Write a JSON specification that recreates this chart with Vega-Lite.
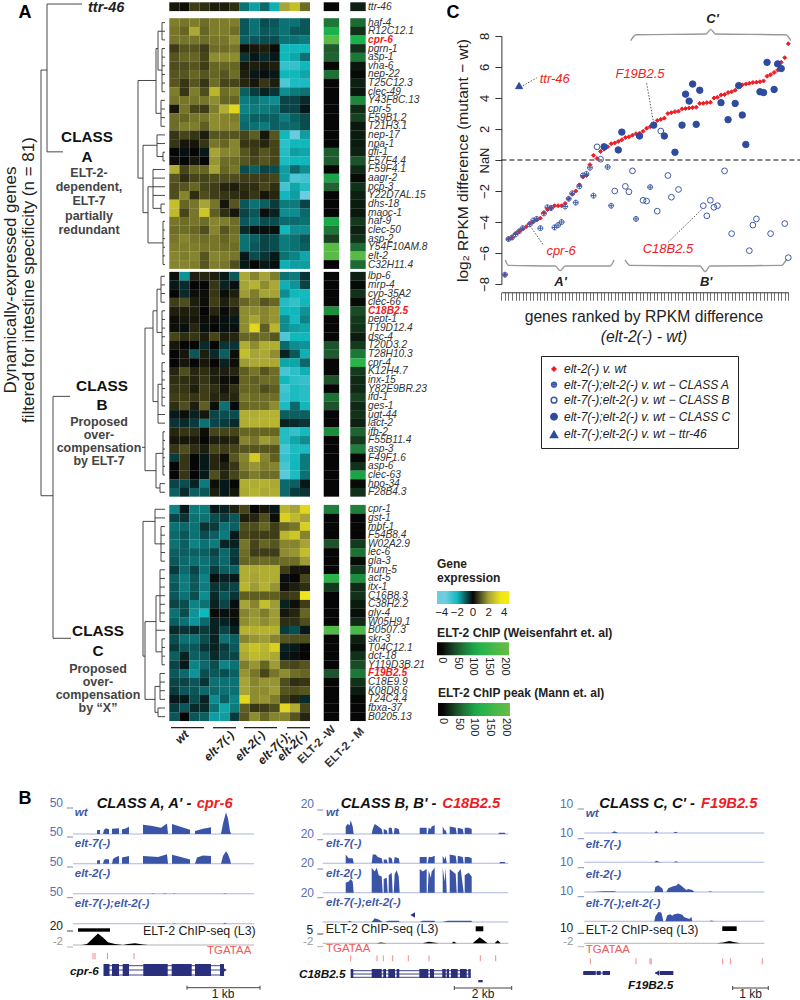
{"$schema":"https://vega.github.io/schema/vega-lite/v6.json","width":800,"height":1000,"padding":0,"autosize":"none","background":"white","config":{"view":{"stroke":null},"font":"Liberation Sans","text":{"font":"Liberation Sans"},"legend":{"titleFont":"Liberation Sans","labelFont":"Liberation Sans"},"axis":{"labelFont":"Liberation Sans","titleFont":"Liberation Sans","titleFontWeight":"normal","labelColor":"#222","titleColor":"#222"}},
"datasets":{
"genes":[
{"g":"ttr-46","r":0,"lf":0,"W":0,"M":15,"a":0.2,"b":0.1,"c":0.7,"d":0.5,"e":0.3,"f":0.3,"h":0.5,"i":-1.2,"j":-1.7,"k":-1.1,"l":-1.9,"m":2,"n":2.6,"o":1.3},
{"g":"haf-4","r":1.84,"lf":162,"W":70,"M":60,"a":1.5,"b":1.4,"c":1.5,"d":1.3,"e":1.5,"f":1.5,"h":1.5,"i":-0.9,"j":-1.2,"k":-0.8,"l":-0.9,"m":-1.2,"n":-1.2,"o":-0.9},
{"g":"R12C12.1","r":2.84,"lf":162,"W":110,"M":25,"a":1.4,"b":1.2,"c":2.1,"d":1.2,"e":1.5,"f":1.5,"h":1.3,"i":-0.9,"j":-1.2,"k":-0.9,"l":-1,"m":-1.2,"n":-0.9,"o":-0.9},
{"g":"cpr-6","r":3.84,"lf":162,"W":190,"M":110,"a":1.4,"b":1.4,"c":1.4,"d":1.3,"e":1.4,"f":1.4,"h":1.7,"i":-1,"j":-0.9,"k":-0.8,"l":-0.8,"m":-1.2,"n":-1.2,"o":-1.3},
{"g":"pgrn-1","r":4.84,"lf":162,"W":50,"M":25,"a":0.7,"b":1,"c":1,"d":0.7,"e":1.3,"f":1.3,"h":1.4,"i":0.1,"j":0.2,"k":0.3,"l":0.05,"m":-2,"n":-2,"o":-2},
{"g":"asp-1","r":5.84,"lf":162,"W":55,"M":70,"a":1,"b":1.2,"c":1.2,"d":0.8,"e":1.7,"f":1.7,"h":1.7,"i":-0.5,"j":-0.2,"k":-0.4,"l":-0.2,"m":-2,"n":-1.8,"o":-1.2},
{"g":"vha-6","r":6.84,"lf":162,"W":0,"M":10,"a":0.9,"b":0.9,"c":1,"d":0.7,"e":1.2,"f":1.2,"h":1.2,"i":0.2,"j":0.3,"k":0.2,"l":0.3,"m":-2.6,"n":-2.6,"o":-2},
{"g":"nep-22","r":7.84,"lf":162,"W":65,"M":3,"a":1,"b":1,"c":1.2,"d":1,"e":1.2,"f":1,"h":1.3,"i":0.3,"j":-0.2,"k":-0.1,"l":-0.2,"m":-2,"n":-2,"o":-1.8},
{"g":"T25C12.3","r":8.84,"lf":162,"W":0,"M":15,"a":1,"b":0.6,"c":1,"d":0.6,"e":1.3,"f":0.8,"h":0.8,"i":0.4,"j":0.2,"k":0.6,"l":0.3,"m":-3,"n":-2.2,"o":-2.2},
{"g":"clec-49","r":9.84,"lf":162,"W":0,"M":10,"a":1.5,"b":0.6,"c":1.5,"d":0.9,"e":2.4,"f":1.3,"h":1.5,"i":-1,"j":-0.6,"k":-0.3,"l":-0.5,"m":-1.5,"n":-1.3,"o":-1.2},
{"g":"Y43F8C.13","r":10.84,"lf":161,"W":0,"M":80,"a":1.4,"b":1.4,"c":1.4,"d":1.4,"e":1.7,"f":1.2,"h":1.2,"i":-1.3,"j":-1.2,"k":-1.4,"l":-1.5,"m":-0.7,"n":-0.7,"o":-0.4},
{"g":"cpr-5","r":11.84,"lf":161,"W":0,"M":20,"a":0.2,"b":1.4,"c":0.8,"d":0.7,"e":1.5,"f":2.2,"h":3.2,"i":-1.4,"j":-1.3,"k":-1.3,"l":-1.2,"m":-0.7,"n":-0.7,"o":-0.2},
{"g":"F59B1.2","r":12.84,"lf":161,"W":0,"M":35,"a":1.3,"b":1.2,"c":1.4,"d":1.4,"e":1.7,"f":1.6,"h":1.5,"i":-1.2,"j":-1,"k":-1,"l":-1,"m":-1.3,"n":-1,"o":-0.8},
{"g":"T21H3.1","r":13.84,"lf":161,"W":0,"M":10,"a":1.3,"b":1.5,"c":1.5,"d":1.1,"e":1.7,"f":1.6,"h":1.6,"i":-1.1,"j":-1.2,"k":-1.3,"l":-1,"m":-1.1,"n":-1.1,"o":-0.8},
{"g":"nep-17","r":14.84,"lf":157,"W":0,"M":12,"a":0.6,"b":0.8,"c":0.6,"d":0.3,"e":1,"f":1,"h":1,"i":0.8,"j":1.1,"k":0.2,"l":1,"m":-2,"n":-3.4,"o":-1.7},
{"g":"npa-1","r":15.84,"lf":157,"W":0,"M":12,"a":0.6,"b":0.2,"c":0.2,"d":0.6,"e":1.4,"f":1.2,"h":1.6,"i":0.6,"j":0.6,"k":0.4,"l":0.8,"m":-2.5,"n":-2,"o":-2},
{"g":"gfi-1","r":16.84,"lf":163,"W":50,"M":15,"a":0,"b":-0.1,"c":0,"d":-0.2,"e":2,"f":1.6,"h":1.6,"i":1,"j":0.7,"k":1,"l":0.8,"m":-2.3,"n":-1.7,"o":-1.8},
{"g":"F57F4.4","r":17.84,"lf":163,"W":50,"M":45,"a":0.1,"b":0,"c":0.2,"d":0,"e":1.8,"f":1.3,"h":1.3,"i":1,"j":0.8,"k":1,"l":0.8,"m":-2.2,"n":-2,"o":-2},
{"g":"F59F4.1","r":18.84,"lf":153,"W":0,"M":20,"a":2.2,"b":0.8,"c":1.2,"d":1.2,"e":2,"f":1.2,"h":1.4,"i":-0.8,"j":-1,"k":-0.7,"l":-0.8,"m":-1.7,"n":-1.1,"o":-1.5},
{"g":"aagr-2","r":19.84,"lf":153,"W":100,"M":3,"a":1,"b":0.5,"c":0.8,"d":0.8,"e":0.9,"f":0.9,"h":0.9,"i":0.7,"j":0.7,"k":0.7,"l":0.8,"m":-1.7,"n":-3,"o":-2.8},
{"g":"pcp-3","r":20.84,"lf":153,"W":55,"M":25,"a":0.9,"b":1,"c":1.2,"d":0.8,"e":0.7,"f":0.4,"h":0.3,"i":0.5,"j":0.5,"k":0.8,"l":0.5,"m":-2.8,"n":-1.8,"o":-2.3},
{"g":"Y22D7AL.15","r":21.84,"lf":153,"W":0,"M":15,"a":0.9,"b":1.6,"c":0.5,"d":0.9,"e":0.7,"f":0.6,"h":0.5,"i":0.4,"j":0.6,"k":0.2,"l":0.4,"m":-2,"n":-1.7,"o":-3.7},
{"g":"dhs-18","r":22.84,"lf":161,"W":0,"M":12,"a":2.6,"b":1.2,"c":1.4,"d":2,"e":1.4,"f":0.2,"h":1,"i":-0.9,"j":-1.2,"k":-1,"l":-0.6,"m":-1.3,"n":-1.3,"o":-0.7},
{"g":"maoc-1","r":23.84,"lf":161,"W":0,"M":10,"a":2.5,"b":0.8,"c":1.4,"d":2.8,"e":1.1,"f":0.5,"h":0.2,"i":-0.7,"j":-0.9,"k":-0.1,"l":-0.3,"m":-1.5,"n":-1.5,"o":-1.1},
{"g":"haf-9","r":24.84,"lf":163,"W":105,"M":30,"a":1.4,"b":1.3,"c":1.4,"d":1.3,"e":1.6,"f":1.5,"h":1.3,"i":-0.9,"j":-1.1,"k":-0.8,"l":-0.8,"m":-1.1,"n":-1.1,"o":-1.2},
{"g":"clec-50","r":25.84,"lf":163,"W":70,"M":15,"a":1.3,"b":1.3,"c":1.2,"d":0.9,"e":1.6,"f":1,"h":1.3,"i":-0.4,"j":-0.1,"k":-0.1,"l":-0.1,"m":-2,"n":-1.5,"o":-1.5},
{"g":"asp-2","r":26.84,"lf":163,"W":35,"M":25,"a":1.4,"b":1.6,"c":1.4,"d":1.3,"e":1.4,"f":1.2,"h":1.4,"i":-1.2,"j":-1,"k":-0.7,"l":-0.8,"m":-1.3,"n":-1.2,"o":-0.9},
{"g":"Y54F10AM.8","r":27.84,"lf":163,"W":190,"M":60,"a":1.5,"b":1.5,"c":1.5,"d":1.4,"e":1.4,"f":1.3,"h":1.3,"i":-1.2,"j":-0.9,"k":-0.7,"l":-0.8,"m":-1.3,"n":-1.2,"o":-1},
{"g":"elt-2","r":28.84,"lf":163,"W":190,"M":190,"a":1.6,"b":1.5,"c":1.6,"d":1,"e":1.6,"f":1.5,"h":1.4,"i":-0.2,"j":-0.8,"k":-0.5,"l":-0.2,"m":-1.2,"n":-1.4,"o":-1.8},
{"g":"C32H11.4","r":29.84,"lf":163,"W":0,"M":60,"a":1.6,"b":1.6,"c":1.5,"d":1,"e":1.5,"f":1.4,"h":0.9,"i":-0.2,"j":0,"k":-0.2,"l":-0.1,"m":-1.9,"n":-1.7,"o":-1.7},
{"g":"lbp-6","r":31.2,"lf":161,"W":0,"M":15,"a":0.1,"b":-1.6,"c":0.3,"d":0.4,"e":0.3,"f":-0.2,"h":-0.9,"i":2.1,"j":1.6,"k":2,"l":1.5,"m":-1.2,"n":-1.3,"o":-0.5},
{"g":"mrp-4","r":32.2,"lf":161,"W":0,"M":3,"a":-0.2,"b":-0.4,"c":0,"d":0,"e":0.6,"f":-0.3,"h":-0.1,"i":2,"j":2.3,"k":1.7,"l":2.1,"m":-1.9,"n":-1.6,"o":-0.7},
{"g":"cyp-35A2","r":33.2,"lf":161,"W":0,"M":25,"a":0,"b":-0.4,"c":0.1,"d":0.1,"e":0.6,"f":0.1,"h":0.3,"i":1.9,"j":1.5,"k":2,"l":2,"m":-1.5,"n":-2,"o":-2.1},
{"g":"clec-66","r":34.2,"lf":161,"W":0,"M":3,"a":0.7,"b":0.9,"c":0.3,"d":0.1,"e":0.7,"f":0.3,"h":0.6,"i":1.2,"j":1.4,"k":1,"l":1.2,"m":-2.3,"n":-2.6,"o":-2},
{"g":"C18B2.5","r":35.2,"lf":162,"W":85,"M":40,"a":0.3,"b":0.3,"c":0.3,"d":0,"e":0.4,"f":0.05,"h":0.3,"i":1.7,"j":1.7,"k":1.6,"l":1.8,"m":-2,"n":-2,"o":-1.6},
{"g":"pept-1","r":36.2,"lf":162,"W":0,"M":30,"a":0.1,"b":0.2,"c":0.2,"d":0.1,"e":0.1,"f":-0.1,"h":-0.2,"i":1.7,"j":2,"k":1.6,"l":1.8,"m":-1.5,"n":-2.1,"o":-1.4},
{"g":"T19D12.4","r":37.2,"lf":162,"W":0,"M":25,"a":0.1,"b":-0.1,"c":0.4,"d":-0.1,"e":0,"f":-0.1,"h":-0.1,"i":1.7,"j":3.2,"k":1.1,"l":2.4,"m":-1.5,"n":-1.7,"o":-1.8},
{"g":"dsc-4","r":38.2,"lf":162,"W":0,"M":12,"a":0.8,"b":0.5,"c":0.6,"d":0.3,"e":0.8,"f":0.3,"h":0.4,"i":1.2,"j":1.2,"k":1.3,"l":1,"m":-3,"n":-2,"o":-2},
{"g":"T20D3.2","r":39.2,"lf":162,"W":45,"M":30,"a":0.2,"b":0,"c":0,"d":-0.4,"e":0,"f":-0.5,"h":-0.5,"i":2.2,"j":1.7,"k":2.2,"l":2.2,"m":-1.1,"n":-1.5,"o":-1.6},
{"g":"T28H10.3","r":40.2,"lf":162,"W":50,"M":70,"a":0,"b":0.2,"c":-0.9,"d":0.3,"e":-0.4,"f":-1,"h":0.1,"i":2.6,"j":2,"k":2.1,"l":1.7,"m":-0.3,"n":-0.9,"o":-1.9},
{"g":"cpr-4","r":41.2,"lf":162,"W":0,"M":130,"a":0,"b":0.2,"c":0,"d":0.2,"e":0,"f":-0.3,"h":0.1,"i":1.9,"j":2.1,"k":2.1,"l":2.1,"m":-1.8,"n":-1.8,"o":-1.1},
{"g":"K12H4.7","r":42.2,"lf":162,"W":0,"M":30,"a":0.4,"b":0.9,"c":0.4,"d":0.5,"e":0.3,"f":0.3,"h":0.4,"i":1.1,"j":1.4,"k":1,"l":1.3,"m":-2.9,"n":-2.5,"o":-1.9},
{"g":"inx-15","r":43.2,"lf":162,"W":45,"M":20,"a":0.5,"b":0.5,"c":0.4,"d":0.6,"e":0.3,"f":0.1,"h":0.1,"i":1.2,"j":1.1,"k":1.3,"l":1.3,"m":-2,"n":-2.5,"o":-2.6},
{"g":"Y82E9BR.23","r":44.2,"lf":162,"W":0,"M":20,"a":0.6,"b":0.6,"c":0.3,"d":0.7,"e":0.5,"f":0.2,"h":0.5,"i":1.2,"j":1.2,"k":0.9,"l":1.1,"m":-2.8,"n":-2.2,"o":-2.4},
{"g":"ifd-1","r":45.2,"lf":162,"W":65,"M":35,"a":0.7,"b":0.7,"c":0.6,"d":0.7,"e":0.4,"f":0.4,"h":0.4,"i":1.4,"j":1.3,"k":1.3,"l":1.3,"m":-2.6,"n":-2.2,"o":-2.4},
{"g":"ges-1","r":46.2,"lf":162,"W":45,"M":20,"a":0.5,"b":0.9,"c":0.3,"d":1.1,"e":0.1,"f":-1.2,"h":-0.05,"i":1.2,"j":1.3,"k":1.3,"l":1.7,"m":-2.2,"n":-1.1,"o":-2},
{"g":"ugt-44","r":47.2,"lf":158,"W":0,"M":25,"a":-0.2,"b":0.1,"c":-0.3,"d":0.2,"e":-0.7,"f":-0.8,"h":-0.8,"i":2.2,"j":2.2,"k":2.3,"l":2.3,"m":-1,"n":-1,"o":-1},
{"g":"lact-2","r":48.2,"lf":158,"W":0,"M":15,"a":-0.5,"b":-0.4,"c":-0.6,"d":-1.2,"e":-0.7,"f":-0.6,"h":-0.4,"i":2.2,"j":2.3,"k":2.3,"l":2.4,"m":-0.3,"n":-0.4,"o":-0.5},
{"g":"ifb-2","r":49.2,"lf":163,"W":85,"M":55,"a":0.4,"b":0.6,"c":0.5,"d":0.1,"e":0.8,"f":0.8,"h":0.8,"i":1.2,"j":1.2,"k":1.2,"l":1.2,"m":-2.3,"n":-2.6,"o":-2.1},
{"g":"F55B11.4","r":50.2,"lf":163,"W":0,"M":30,"a":0.2,"b":0.2,"c":0.2,"d":0,"e":0.3,"f":0.3,"h":0.4,"i":1.6,"j":1.4,"k":1.9,"l":1.7,"m":-2.3,"n":-1.8,"o":-1.5},
{"g":"asp-3","r":51.2,"lf":163,"W":0,"M":75,"a":0.6,"b":0.9,"c":0.5,"d":0.3,"e":0.8,"f":0.7,"h":0.8,"i":1,"j":1,"k":1,"l":1,"m":-2.9,"n":-2.2,"o":-2.2},
{"g":"F49F1.6","r":52.2,"lf":163,"W":0,"M":2,"a":-0.6,"b":0.6,"c":0,"d":-0.2,"e":0.4,"f":0.1,"h":1,"i":1.6,"j":2.9,"k":1.6,"l":1.1,"m":-2.6,"n":-2.1,"o":-1.3},
{"g":"asp-6","r":53.2,"lf":163,"W":0,"M":25,"a":0,"b":0.6,"c":0,"d":-0.2,"e":0.4,"f":0.3,"h":0.6,"i":1.5,"j":1.8,"k":1.5,"l":1.6,"m":-2.9,"n":-2,"o":-1.3},
{"g":"clec-63","r":54.2,"lf":163,"W":0,"M":100,"a":0,"b":0.6,"c":0,"d":-0.2,"e":0.9,"f":0.4,"h":0.8,"i":1.2,"j":1.5,"k":1.3,"l":1.3,"m":-3.2,"n":-2.2,"o":-1.2},
{"g":"hpo-34","r":55.2,"lf":160,"W":0,"M":3,"a":-0.7,"b":-0.8,"c":-0.3,"d":-1.3,"e":0.1,"f":-0.2,"h":0,"i":2.2,"j":2.2,"k":2.3,"l":2.1,"m":-1.1,"n":-1,"o":-0.2},
{"g":"F28B4.3","r":56.2,"lf":160,"W":0,"M":25,"a":-1,"b":-0.4,"c":-1,"d":-0.9,"e":0.3,"f":-0.2,"h":0.2,"i":2.1,"j":2.3,"k":2.1,"l":2.2,"m":-1.1,"n":-0.6,"o":-0.5},
{"g":"cpr-1","r":58.17,"lf":155,"W":75,"M":75,"a":-1.4,"b":-0.2,"c":-1.3,"d":-1.3,"e":-0.2,"f":-0.3,"h":0.3,"i":0.8,"j":0,"k":0.2,"l":-0.2,"m":2.4,"n":2,"o":3.2},
{"g":"gst-1","r":59.17,"lf":155,"W":0,"M":0,"a":-0.7,"b":-0.5,"c":-1.2,"d":-1.2,"e":-0.8,"f":-0.6,"h":-0.9,"i":0.3,"j":0.4,"k":0.9,"l":0.1,"m":3,"n":2.5,"o":2},
{"g":"mbf-1","r":60.17,"lf":161,"W":0,"M":0,"a":-1.2,"b":-1.1,"c":-1.2,"d":-0.5,"e":-0.6,"f":-1.2,"h":-1,"i":0.9,"j":0.9,"k":1.2,"l":0.7,"m":1.2,"n":1.4,"o":3},
{"g":"F54B8.4","r":61.17,"lf":161,"W":0,"M":0,"a":-1.1,"b":-0.9,"c":-1.2,"d":-0.8,"e":-1,"f":-1.3,"h":-0.2,"i":0.8,"j":0.7,"k":0.7,"l":0.7,"m":2.4,"n":2.8,"o":1.6},
{"g":"W02A2.9","r":62.17,"lf":161,"W":45,"M":30,"a":-1.2,"b":-1,"c":-1.4,"d":-1.2,"e":-1.3,"f":-0.3,"h":-0.3,"i":1.4,"j":0.8,"k":1.2,"l":1,"m":1.6,"n":1.6,"o":2},
{"g":"lec-6","r":63.17,"lf":161,"W":0,"M":65,"a":-1,"b":-1,"c":-1,"d":-1,"e":-0.7,"f":-1.1,"h":-0.6,"i":1.3,"j":0.7,"k":0.7,"l":0.7,"m":1.7,"n":1.8,"o":2.6},
{"g":"gla-3","r":64.17,"lf":161,"W":0,"M":3,"a":-0.9,"b":-1.1,"c":-1.2,"d":-1.2,"e":-0.9,"f":-1.1,"h":-0.5,"i":1.2,"j":1.2,"k":1.3,"l":1.2,"m":1.3,"n":1.3,"o":1.9},
{"g":"hum-5","r":65.17,"lf":160,"W":0,"M":30,"a":-0.6,"b":-1.1,"c":-0.7,"d":-1.2,"e":-0.6,"f":-1,"h":-1,"i":2.2,"j":2.1,"k":2.2,"l":2.2,"m":0.7,"n":0.2,"o":0.2},
{"g":"act-5","r":66.17,"lf":160,"W":130,"M":85,"a":-1,"b":-1.3,"c":-0.9,"d":-1.4,"e":-0.1,"f":-0.3,"h":-0.2,"i":2.2,"j":2,"k":2.2,"l":2.2,"m":-0.1,"n":0,"o":0.8},
{"g":"itx-1","r":67.17,"lf":160,"W":30,"M":20,"a":-0.9,"b":-1.3,"c":-0.9,"d":-1.3,"e":-0.5,"f":-0.6,"h":-0.7,"i":2.4,"j":1.9,"k":2.3,"l":1.8,"m":0.1,"n":0.3,"o":0.5},
{"g":"C16B8.3","r":68.17,"lf":160,"W":0,"M":25,"a":-0.9,"b":-1.2,"c":-0.8,"d":-1.5,"e":-0.4,"f":-0.9,"h":-0.5,"i":1.1,"j":1.1,"k":1.1,"l":1.1,"m":0.6,"n":0.7,"o":3.5},
{"g":"C38H2.2","r":69.17,"lf":160,"W":0,"M":12,"a":-0.7,"b":-0.8,"c":-1.4,"d":-1.2,"e":-0.3,"f":-0.7,"h":-0.1,"i":2,"j":1.6,"k":2.6,"l":1.9,"m":-0.3,"n":0.1,"o":0.7},
{"g":"gly-4","r":70.17,"lf":160,"W":0,"M":5,"a":-1.2,"b":-0.8,"c":-1.6,"d":-2,"e":0.05,"f":-0.1,"h":0.1,"i":1.6,"j":1.8,"k":1.5,"l":1.9,"m":0.2,"n":0.4,"o":1.2},
{"g":"W05H9.1","r":71.17,"lf":160,"W":0,"M":20,"a":-1,"b":-1.2,"c":-1.6,"d":-1.1,"e":-0.3,"f":-0.3,"h":-0.1,"i":1.7,"j":1.9,"k":1.7,"l":1.9,"m":0.5,"n":0.5,"o":0.9},
{"g":"B0507.3","r":72.17,"lf":156,"W":180,"M":170,"a":-0.4,"b":-0.5,"c":-0.4,"d":-0.6,"e":-0.3,"f":-0.7,"h":-0.3,"i":2.3,"j":2.3,"k":2.3,"l":2.3,"m":-0.6,"n":-0.8,"o":-0.2},
{"g":"skr-3","r":73.17,"lf":162,"W":0,"M":15,"a":-0.8,"b":-1.2,"c":-1.2,"d":-0.8,"e":-0.3,"f":-1.2,"h":-1,"i":1.6,"j":1.8,"k":1.9,"l":1.6,"m":1,"n":0.9,"o":0.9},
{"g":"T04C12.1","r":74.17,"lf":162,"W":0,"M":5,"a":-0.6,"b":-0.9,"c":-0.9,"d":-0.5,"e":-0.3,"f":-0.6,"h":-0.9,"i":2.3,"j":2.7,"k":2.4,"l":3,"m":-0.3,"n":-0.2,"o":0},
{"g":"dct-18","r":75.17,"lf":162,"W":0,"M":25,"a":-1,"b":-0.3,"c":-1,"d":-0.9,"e":-0.4,"f":-0.7,"h":-0.7,"i":2.1,"j":2.5,"k":2.3,"l":2.1,"m":-0.2,"n":-0.1,"o":0},
{"g":"Y119D3B.21","r":76.17,"lf":162,"W":0,"M":40,"a":-0.7,"b":-0.2,"c":-1.4,"d":-1.1,"e":-0.8,"f":-1.4,"h":-1.2,"i":1.5,"j":1.8,"k":1.2,"l":1.9,"m":0.9,"n":0.8,"o":1},
{"g":"F19B2.5","r":77.17,"lf":160,"W":45,"M":70,"a":-0.9,"b":-1.1,"c":-1.6,"d":-0.8,"e":-0.9,"f":-0.8,"h":-1,"i":1.8,"j":1.4,"k":0.8,"l":1.4,"m":1.7,"n":1.3,"o":1.2},
{"g":"C18E9.9","r":78.17,"lf":160,"W":0,"M":25,"a":-0.7,"b":-0.7,"c":-0.9,"d":-0.5,"e":-1.2,"f":-1.2,"h":-1.2,"i":2,"j":1.6,"k":1.8,"l":1.8,"m":0.9,"n":0.5,"o":0.6},
{"g":"K08D8.6","r":79.17,"lf":160,"W":0,"M":12,"a":-0.6,"b":-0.9,"c":-0.9,"d":-1.1,"e":-1.1,"f":-1.2,"h":-1.2,"i":2,"j":1.7,"k":1.7,"l":1.9,"m":1,"n":0.9,"o":1},
{"g":"T24C4.4","r":80.17,"lf":160,"W":0,"M":0,"a":-0.2,"b":-0.2,"c":-0.8,"d":-0.3,"e":-1.5,"f":-1,"h":-1.4,"i":3.2,"j":1.7,"k":1.8,"l":1.5,"m":0.7,"n":0.4,"o":-0.4},
{"g":"fbxa-37","r":81.17,"lf":158,"W":0,"M":0,"a":-0.6,"b":-0.9,"c":-0.4,"d":-0.4,"e":-1.2,"f":-1.8,"h":-1.3,"i":1.1,"j":0.6,"k":0.7,"l":0.9,"m":3.2,"n":2.2,"o":0.8},
{"g":"B0205.13","r":82.17,"lf":158,"W":0,"M":0,"a":-0.9,"b":0,"c":-0.9,"d":-1,"e":-1.7,"f":-1.7,"h":-0.6,"i":1,"j":1.7,"k":1.2,"l":1.6,"m":1.6,"n":1,"o":0.4}
],
"dend":[
{"h":162,"h2":162,"r":1.84,"r2":3.84},{"h":158,"h2":162,"r":2.84,"r2":2.84},{"h":162,"h2":162,"r":4.84,"r2":9.84},{"h":158,"h2":162,"r":7.34,"r2":7.34},{"h":158,"h2":158,"r":2.84,"r2":7.34},{"h":156,"h2":158,"r":4.84,"r2":4.84},{"h":161,"h2":161,"r":10.84,"r2":13.84},{"h":156,"h2":161,"r":12.34,"r2":12.34},{"h":156,"h2":156,"r":4.84,"r2":12.34},{"h":138,"h2":156,"r":8.54,"r2":8.54},
{"h":157,"h2":157,"r":14.84,"r2":17.34},{"h":163,"h2":163,"r":16.84,"r2":17.84},{"h":157,"h2":163,"r":17.34,"r2":17.34},{"h":143,"h2":157,"r":16.04,"r2":16.04},{"h":153,"h2":153,"r":18.84,"r2":23.34},{"h":161,"h2":161,"r":22.84,"r2":23.84},{"h":153,"h2":161,"r":23.34,"r2":23.34},{"h":148,"h2":153,"r":20.84,"r2":20.84},{"h":163,"h2":163,"r":24.84,"r2":29.84},{"h":148,"h2":163,"r":27.34,"r2":27.34},{"h":148,"h2":148,"r":20.84,"r2":27.34},{"h":143,"h2":148,"r":23.84,"r2":23.84},{"h":143,"h2":143,"r":16.04,"r2":23.84},{"h":138,"h2":143,"r":19.84,"r2":19.84},{"h":138,"h2":138,"r":8.54,"r2":19.84},
{"h":161,"h2":161,"r":31.2,"r2":34.2},{"h":157,"h2":161,"r":32.7,"r2":32.7},{"h":162,"h2":162,"r":35.2,"r2":40.2},{"h":157,"h2":162,"r":37.7,"r2":37.7},{"h":157,"h2":157,"r":32.7,"r2":37.7},{"h":153,"h2":157,"r":35.2,"r2":35.2},{"h":162,"h2":162,"r":41.2,"r2":46.2},{"h":158,"h2":162,"r":43.7,"r2":43.7},{"h":158,"h2":158,"r":43.7,"r2":48.2},{"h":153,"h2":158,"r":45.7,"r2":45.7},{"h":153,"h2":153,"r":35.2,"r2":45.7},{"h":145,"h2":153,"r":37.2,"r2":37.2},{"h":163,"h2":163,"r":49.2,"r2":54.2},{"h":156,"h2":163,"r":51.7,"r2":51.7},{"h":160,"h2":160,"r":55.2,"r2":56.2},{"h":156,"h2":160,"r":55.7,"r2":55.7},{"h":156,"h2":156,"r":51.7,"r2":55.7},{"h":145,"h2":156,"r":53.7,"r2":53.7},{"h":145,"h2":145,"r":37.2,"r2":53.7},{"h":142,"h2":145,"r":51,"r2":51},
{"h":161,"h2":161,"r":60.17,"r2":64.17},{"h":155,"h2":161,"r":62.17,"r2":62.17},{"h":155,"h2":155,"r":58.17,"r2":62.17},{"h":143,"h2":155,"r":59.57,"r2":59.57},{"h":160,"h2":160,"r":65.17,"r2":71.17},{"h":156,"h2":160,"r":68.17,"r2":68.17},{"h":162,"h2":162,"r":73.17,"r2":76.17},{"h":156,"h2":162,"r":74.67,"r2":74.67},{"h":156,"h2":156,"r":68.17,"r2":74.67},{"h":145,"h2":156,"r":71.17,"r2":71.17},{"h":160,"h2":160,"r":77.17,"r2":80.17},{"h":155,"h2":160,"r":78.67,"r2":78.67},{"h":158,"h2":158,"r":81.17,"r2":82.17},{"h":155,"h2":158,"r":81.67,"r2":81.67},{"h":155,"h2":155,"r":78.67,"r2":81.67},{"h":145,"h2":155,"r":80.17,"r2":80.17},{"h":145,"h2":145,"r":71.17,"r2":80.17},{"h":143,"h2":145,"r":75.17,"r2":75.17},{"h":143,"h2":143,"r":59.57,"r2":75.17},
{"h":41,"h2":41,"r":7.33,"r2":56.6},{"h":41,"h2":47,"r":7.33,"r2":7.33},{"h":47,"h2":47,"r":-0.31,"r2":16.8},{"h":47,"h2":82,"r":-0.31,"r2":-0.31},{"h":47,"h2":63,"r":16.8,"r2":16.8},{"h":41,"h2":53,"r":56.6,"r2":56.6},{"h":53,"h2":53,"r":45.1,"r2":73.1},{"h":53,"h2":70,"r":45.1,"r2":45.1},{"h":53,"h2":71,"r":73.1,"r2":73.1}
],
"rnk":[
{"rank":1,"diff":-7.4,"s":"E"},{"rank":2,"diff":-5.1,"s":"E"},{"rank":3,"diff":-5,"s":"E"},{"rank":4,"diff":-4.75,"s":"E"},{"rank":5,"diff":-4.6,"s":"E"},{"rank":6,"diff":-4.45,"s":"E"},{"rank":7,"diff":-4.3,"s":"E"},{"rank":8,"diff":-4.1,"s":"E"},{"rank":9,"diff":-4,"s":"E"},{"rank":10,"diff":-3.85,"s":"E"},{"rank":11,"diff":-3.75,"s":"E"},{"rank":12,"diff":-3.4,"s":"E"},{"rank":13,"diff":-3.2,"s":"E"},{"rank":14,"diff":-3.1,"s":"E"},{"rank":15,"diff":-2.95,"s":"E"},{"rank":16,"diff":-2.95,"s":"E"},{"rank":17,"diff":-2.95,"s":"E"},{"rank":18,"diff":-2.8,"s":"E"},{"rank":19,"diff":-2.5,"s":"E"},{"rank":20,"diff":-2.2,"s":"E"},{"rank":21,"diff":-2,"s":"E"},{"rank":22,"diff":-1.6,"s":"E"},{"rank":23,"diff":-1.1,"s":"E"},{"rank":24,"diff":-1,"s":"E"},{"rank":25,"diff":-0.3,"s":"E"},{"rank":26,"diff":0.3,"s":"E"},{"rank":27,"diff":0.1,"s":"E"},{"rank":28,"diff":0.55,"s":"E"},{"rank":29,"diff":0.7,"s":"E"},{"rank":30,"diff":0.85,"s":"E"},{"rank":31,"diff":1.05,"s":"E"},{"rank":32,"diff":1.1,"s":"E"},{"rank":33,"diff":1.2,"s":"E"},{"rank":34,"diff":1.3,"s":"E"},{"rank":35,"diff":1.45,"s":"E"},{"rank":36,"diff":1.5,"s":"E"},{"rank":37,"diff":1.6,"s":"E"},{"rank":38,"diff":1.7,"s":"E"},{"rank":39,"diff":1.72,"s":"E"},{"rank":40,"diff":1.85,"s":"E"},{"rank":41,"diff":2.05,"s":"E"},{"rank":42,"diff":2.15,"s":"E"},{"rank":43,"diff":2.3,"s":"E"},{"rank":44,"diff":2.55,"s":"E"},{"rank":45,"diff":2.62,"s":"E"},{"rank":46,"diff":2.7,"s":"E"},{"rank":47,"diff":3,"s":"E"},{"rank":48,"diff":3.05,"s":"E"},{"rank":49,"diff":3.12,"s":"E"},{"rank":50,"diff":3.15,"s":"E"},{"rank":51,"diff":3.3,"s":"E"},{"rank":52,"diff":3.32,"s":"E"},{"rank":53,"diff":3.35,"s":"E"},{"rank":54,"diff":3.38,"s":"E"},{"rank":55,"diff":3.4,"s":"E"},{"rank":56,"diff":3.65,"s":"E"},{"rank":57,"diff":3.66,"s":"E"},{"rank":58,"diff":3.7,"s":"E"},{"rank":59,"diff":3.72,"s":"E"},{"rank":60,"diff":4,"s":"E"},{"rank":61,"diff":4.05,"s":"E"},{"rank":62,"diff":4.2,"s":"E"},{"rank":63,"diff":4.22,"s":"E"},{"rank":64,"diff":4.35,"s":"E"},{"rank":65,"diff":4.4,"s":"E"},{"rank":66,"diff":4.5,"s":"E"},{"rank":67,"diff":4.8,"s":"E"},{"rank":68,"diff":4.85,"s":"E"},{"rank":69,"diff":4.9,"s":"E"},{"rank":70,"diff":4.95,"s":"E"},{"rank":71,"diff":5,"s":"E"},{"rank":72,"diff":5.02,"s":"E"},{"rank":73,"diff":5.05,"s":"E"},{"rank":74,"diff":5.1,"s":"E"},{"rank":75,"diff":5.4,"s":"E"},{"rank":76,"diff":5.5,"s":"E"},{"rank":77,"diff":5.65,"s":"E"},{"rank":78,"diff":5.8,"s":"E"},{"rank":79,"diff":6.3,"s":"E"},{"rank":80,"diff":6.6,"s":"E"},{"rank":81,"diff":7.5,"s":"E"},
{"rank":1,"diff":-7.4,"s":"A"},{"rank":2,"diff":-5.1,"s":"A"},{"rank":3,"diff":-5,"s":"A"},{"rank":4,"diff":-4.8,"s":"A"},{"rank":5,"diff":-4.6,"s":"A"},{"rank":6,"diff":-4.4,"s":"A"},{"rank":8,"diff":-4.15,"s":"A"},{"rank":9,"diff":-3.9,"s":"A"},{"rank":10,"diff":-3.8,"s":"A"},{"rank":11,"diff":-4.4,"s":"A"},{"rank":12,"diff":-3.45,"s":"A"},{"rank":13,"diff":-3.05,"s":"A"},{"rank":14,"diff":-3.1,"s":"A"},{"rank":15,"diff":-4.35,"s":"A"},{"rank":16,"diff":-4.2,"s":"A"},{"rank":17,"diff":-4,"s":"A"},{"rank":18,"diff":-3,"s":"A"},{"rank":19,"diff":-2.5,"s":"A"},{"rank":20,"diff":-2.15,"s":"A"},{"rank":21,"diff":-2.75,"s":"A"},{"rank":22,"diff":-1.7,"s":"A"},{"rank":23,"diff":-1,"s":"A"},{"rank":24,"diff":-0.9,"s":"A"},{"rank":25,"diff":-0.5,"s":"A"},{"rank":26,"diff":-2.3,"s":"A"},{"rank":30,"diff":-0.45,"s":"A"},{"rank":31,"diff":-2.95,"s":"A"},{"rank":38,"diff":-3.8,"s":"A"},{"rank":42,"diff":-1.75,"s":"A"},
{"rank":27,"diff":0.85,"s":"B"},{"rank":28,"diff":0.05,"s":"B"},{"rank":32,"diff":-2,"s":"B"},{"rank":35,"diff":-1.7,"s":"B"},{"rank":36,"diff":-2.05,"s":"B"},{"rank":37,"diff":-0.7,"s":"B"},{"rank":40,"diff":-2.6,"s":"B"},{"rank":41,"diff":-2.65,"s":"B"},{"rank":44,"diff":-3.3,"s":"B"},{"rank":45,"diff":1.87,"s":"B"},{"rank":47,"diff":-1,"s":"B"},{"rank":48,"diff":-2.4,"s":"B"},{"rank":50,"diff":-1.9,"s":"B"},{"rank":57,"diff":-2.95,"s":"B"},{"rank":58,"diff":-3.6,"s":"B"},{"rank":59,"diff":-2.6,"s":"B"},{"rank":60,"diff":-3.05,"s":"B"},{"rank":61,"diff":-2.95,"s":"B"},{"rank":63,"diff":-0.7,"s":"B"},{"rank":65,"diff":-4.75,"s":"B"},{"rank":70,"diff":-5.85,"s":"B"},{"rank":71,"diff":-4.2,"s":"B"},{"rank":72,"diff":-3.8,"s":"B"},{"rank":76,"diff":-4.75,"s":"B"},{"rank":80,"diff":-4.1,"s":"B"},{"rank":81,"diff":-6.3,"s":"B"},
{"rank":29,"diff":0.85,"s":"C"},{"rank":33,"diff":0.65,"s":"C"},{"rank":34,"diff":1.8,"s":"C"},{"rank":39,"diff":1.55,"s":"C"},{"rank":43,"diff":2.25,"s":"C"},{"rank":46,"diff":1.55,"s":"C"},{"rank":49,"diff":0.5,"s":"C"},{"rank":51,"diff":2.25,"s":"C"},{"rank":52,"diff":4.25,"s":"C"},{"rank":53,"diff":3.8,"s":"C"},{"rank":54,"diff":4.9,"s":"C"},{"rank":55,"diff":2.3,"s":"C"},{"rank":56,"diff":4.5,"s":"C"},{"rank":62,"diff":3.7,"s":"C"},{"rank":64,"diff":2.6,"s":"C"},{"rank":66,"diff":3.65,"s":"C"},{"rank":67,"diff":4.8,"s":"C"},{"rank":68,"diff":2.9,"s":"C"},{"rank":69,"diff":1,"s":"C"},{"rank":73,"diff":4.4,"s":"C"},{"rank":74,"diff":4.35,"s":"C"},{"rank":75,"diff":6.3,"s":"C"},{"rank":77,"diff":4.55,"s":"C"},{"rank":78,"diff":6.2,"s":"C"},{"rank":79,"diff":5.9,"s":"C"},
{"rank":5,"diff":4.8,"s":"T"}
],
"brace":[
{"b":"A","rank":1.1,"diff":-6.45},{"b":"A","rank":2,"diff":-6.8},{"b":"A","rank":15.2,"diff":-6.84},{"b":"A","rank":16.6,"diff":-7.14},{"b":"A","rank":18,"diff":-6.84},{"b":"A","rank":30.7,"diff":-6.84},{"b":"A","rank":31.8,"diff":-6.45},
{"b":"B","rank":34.9,"diff":-6.45},{"b":"B","rank":36.3,"diff":-6.8},{"b":"B","rank":56.1,"diff":-6.84},{"b":"B","rank":57.5,"diff":-7.2},{"b":"B","rank":58.9,"diff":-6.84},{"b":"B","rank":79.1,"diff":-6.8},{"b":"B","rank":80.5,"diff":-6.4},
{"b":"C","rank":36.5,"diff":7.7},{"b":"C","rank":38,"diff":8.08},{"b":"C","rank":57.8,"diff":8.13},{"b":"C","rank":59.1,"diff":8.43},{"b":"C","rank":60.4,"diff":8.13},{"b":"C","rank":80.3,"diff":8.08},{"b":"C","rank":81.7,"diff":7.7}
],
"t":[
{"k":"pan","x":25,"y":13,"s":"A"},{"k":"pan","x":453,"y":13,"s":"C"},{"k":"pan","x":25,"y":799,"s":"B"},
{"k":"ttr","x":88,"y":8,"s":"ttr-46"},
{"k":"vert","x":11,"y":280,"s":"Dynamically-expressed genes"},{"k":"vert","x":29,"y":280,"s":"filtered for intestine specificity (n = 81)"},
{"k":"cls","x":87,"y":137,"s":"CLASS"},{"k":"cls","x":87,"y":157,"s":"A"},{"k":"cls","x":102,"y":386,"s":"CLASS"},{"k":"cls","x":102,"y":405,"s":"B"},{"k":"cls","x":98,"y":631,"s":"CLASS"},{"k":"cls","x":98,"y":651,"s":"C"},
{"k":"sub","x":89,"y":173,"s":"ELT-2-"},{"k":"sub","x":89,"y":187,"s":"dependent,"},{"k":"sub","x":89,"y":201,"s":"ELT-7"},{"k":"sub","x":89,"y":216,"s":"partially"},{"k":"sub","x":89,"y":230,"s":"redundant"},
{"k":"sub","x":99,"y":422,"s":"Proposed"},{"k":"sub","x":99,"y":435,"s":"over-"},{"k":"sub","x":99,"y":448,"s":"compensation"},{"k":"sub","x":99,"y":461,"s":"by ELT-7"},
{"k":"sub","x":98,"y":669,"s":"Proposed"},{"k":"sub","x":98,"y":682,"s":"over-"},{"k":"sub","x":98,"y":695,"s":"compensation"},{"k":"sub","x":98,"y":708,"s":"by “X”"},
{"k":"rot","x":182,"y":737,"s":"wt"},{"k":"rot","x":219,"y":746,"s":"elt-7(-)"},{"k":"rot","x":250,"y":746,"s":"elt-2(-)"},{"k":"rot","x":274,"y":748,"s":"elt-7(-);"},{"k":"rot","x":292,"y":746,"s":"elt-2(-)"},
{"k":"rotp","x":317,"y":745,"s":"ELT-2 -W"},{"k":"rotp","x":345,"y":748,"s":"ELT-2 - M"},
{"k":"xt","x":644,"y":317,"s":"genes ranked by RPKM difference"},{"k":"xti","x":644,"y":337,"s":"(elt-2(-) - wt)"},
{"k":"tb","x":96.7,"y":804,"s":"CLASS A, A' - "},{"k":"tr","x":196.7,"y":804,"s":"cpr-6"},{"k":"tb","x":340.7,"y":804,"s":"CLASS B, B' - "},{"k":"tr","x":442.3,"y":804,"s":"C18B2.5"},{"k":"tb","x":599.3,"y":804,"s":"CLASS C, C' - "},{"k":"tr","x":701,"y":804,"s":"F19B2.5"},
{"k":"num","x":63,"y":802.7,"s":"50"},{"k":"num","x":63,"y":832.3,"s":"50"},{"k":"num","x":63,"y":862.3,"s":"50"},{"k":"num","x":63,"y":892.3,"s":"50"},
{"k":"num","x":314,"y":804.3,"s":"20"},{"k":"num","x":314,"y":834,"s":"20"},{"k":"num","x":314,"y":863.3,"s":"20"},{"k":"num","x":314,"y":892.7,"s":"20"},
{"k":"num","x":573.3,"y":804.3,"s":"10"},{"k":"num","x":573.3,"y":832.7,"s":"10"},{"k":"num","x":573.3,"y":862,"s":"10"},{"k":"num","x":573.3,"y":891.3,"s":"10"},
{"k":"trk","x":74.7,"y":813.3,"s":"wt"},{"k":"trk","x":74.7,"y":844.3,"s":"elt-7(-)"},{"k":"trk","x":74.7,"y":874,"s":"elt-2(-)"},{"k":"trk","x":74.7,"y":904,"s":"elt-7(-);elt-2(-)"},
{"k":"trk","x":326,"y":813,"s":"wt"},{"k":"trk","x":326,"y":843.7,"s":"elt-7(-)"},{"k":"trk","x":326,"y":873.7,"s":"elt-2(-)"},{"k":"trk","x":326,"y":903.3,"s":"elt-7(-);elt-2(-)"},
{"k":"trk","x":585.7,"y":814,"s":"wt"},{"k":"trk","x":585.7,"y":844.7,"s":"elt-7(-)"},{"k":"trk","x":585.7,"y":874.7,"s":"elt-2(-)"},{"k":"trk","x":585.7,"y":904,"s":"elt-7(-);elt-2(-)"},
{"k":"cn","x":63,"y":925.7,"s":"20"},{"k":"cn","x":313.3,"y":929.7,"s":"5"},{"k":"cn","x":573.3,"y":927.7,"s":"10"},
{"k":"cg","x":63,"y":941.7,"s":"-2"},{"k":"cg","x":313.3,"y":942.3,"s":"-2"},{"k":"cg","x":573.3,"y":942.3,"s":"-2"},
{"k":"chip","x":143,"y":931,"s":"ELT-2 ChIP-seq (L3)"},{"k":"chip","x":325.7,"y":929,"s":"ELT-2 ChIP-seq (L3)"},{"k":"chip","x":585.7,"y":930,"s":"ELT-2 ChIP-seq (L3)"},
{"k":"mot","x":207,"y":951,"s":"TGATAA"},{"k":"mot","x":326,"y":949,"s":"TGATAA"},{"k":"mot","x":585.7,"y":950,"s":"TGATAA"},
{"k":"gn","x":70,"y":971,"s":"cpr-6"},{"k":"gn","x":299,"y":974,"s":"C18B2.5"},{"k":"gn","x":628,"y":985,"s":"F19B2.5"},
{"k":"kb","x":223,"y":993.5,"s":"1 kb"},{"k":"kb","x":483,"y":993.5,"s":"2 kb"},{"k":"kb","x":750.5,"y":993.5,"s":"1 kb"}
],
"ctext":[
{"k":"lab","rank":10.8,"diff":5.2,"s":"ttr-46"},{"k":"lab","rank":32.2,"diff":5.55,"s":"F19B2.5"},{"k":"lab","rank":12.7,"diff":-5.9,"s":"cpr-6"},{"k":"lab","rank":39.9,"diff":-5.75,"s":"C18B2.5"},
{"k":"prime","rank":16.7,"diff":-7.9,"s":"A'"},{"k":"prime","rank":57.8,"diff":-7.9,"s":"B'"},{"k":"prime","rank":59.6,"diff":9.1,"s":"C'"}
],
"lead":[
{"rank":5.3,"diff":4.7,"rank2":10,"diff2":5.3},{"rank":41,"diff":4.95,"rank2":43,"diff2":2.37},{"rank":8.1,"diff":-4.25,"rank2":11.9,"diff2":-5.5},{"rank":47.1,"diff":-5.3,"rank2":56.5,"diff2":-3.2}
],
"seg":[
{"k":"base","x":73,"x2":254,"y":834,"y2":834},{"k":"base","x":73,"x2":254,"y":863.7,"y2":863.7},{"k":"base","x":73,"x2":254,"y":893.7,"y2":893.7},{"k":"base","x":73,"x2":254,"y":923.7,"y2":923.7},
{"k":"base","x":322.7,"x2":508.3,"y":834,"y2":834},{"k":"base","x":322.7,"x2":508.3,"y":863.3,"y2":863.3},{"k":"base","x":322.7,"x2":508.3,"y":892.7,"y2":892.7},{"k":"base","x":322.7,"x2":508.3,"y":922,"y2":922},
{"k":"base","x":584.3,"x2":764.3,"y":833,"y2":833},{"k":"base","x":584.3,"x2":764.3,"y":862.3,"y2":862.3},{"k":"base","x":584.3,"x2":764.3,"y":892,"y2":892},{"k":"base","x":584.3,"x2":764.3,"y":921.3,"y2":921.3},
{"k":"tick","x":67,"x2":73,"y":808,"y2":808},{"k":"tick","x":67,"x2":73,"y":837,"y2":837},{"k":"tick","x":67,"x2":73,"y":867,"y2":867},{"k":"tick","x":67,"x2":73,"y":897.7,"y2":897.7},
{"k":"tick","x":317.3,"x2":323.3,"y":810,"y2":810},{"k":"tick","x":317.3,"x2":323.3,"y":839.7,"y2":839.7},{"k":"tick","x":317.3,"x2":323.3,"y":869,"y2":869},{"k":"tick","x":317.3,"x2":323.3,"y":897.7,"y2":897.7},
{"k":"tick","x":577.7,"x2":584,"y":809,"y2":809},{"k":"tick","x":577.7,"x2":584,"y":838.7,"y2":838.7},{"k":"tick","x":577.7,"x2":584,"y":867.7,"y2":867.7},{"k":"tick","x":577.7,"x2":584,"y":896.7,"y2":896.7},
{"k":"dk","x":67,"x2":73,"y":931,"y2":931},{"k":"dk","x":317.3,"x2":323.3,"y":934,"y2":934},{"k":"dk","x":577.7,"x2":584,"y":933.3,"y2":933.3},
{"k":"gr","x":67,"x2":73,"y":947,"y2":947},{"k":"gr","x":317.3,"x2":323.3,"y":946.7,"y2":946.7},{"k":"gr","x":577.7,"x2":584,"y":946.7,"y2":946.7},
{"k":"gr","x":73,"x2":254,"y":945,"y2":945},{"k":"gr","x":322.7,"x2":508.3,"y":943.3,"y2":943.3},{"k":"gr","x":584.3,"x2":764.3,"y":943.3,"y2":943.3},
{"k":"red","x":93,"x2":93,"y":953,"y2":959.3},{"k":"red","x":95,"x2":95,"y":953,"y2":959.3},{"k":"red","x":107.5,"x2":107.5,"y":953,"y2":959.3},{"k":"red","x":134,"x2":134,"y":953,"y2":959.3},
{"k":"red","x":350.7,"x2":350.7,"y":955.3,"y2":961.3},{"k":"red","x":377,"x2":377,"y":955.3,"y2":961.3},{"k":"red","x":383.3,"x2":383.3,"y":955.3,"y2":961.3},{"k":"red","x":392.7,"x2":392.7,"y":955.3,"y2":961.3},{"k":"red","x":408.3,"x2":408.3,"y":955.3,"y2":961.3},{"k":"red","x":429,"x2":429,"y":955.3,"y2":961.3},{"k":"red","x":480.3,"x2":480.3,"y":955.3,"y2":961.3},{"k":"red","x":495.7,"x2":495.7,"y":955.3,"y2":961.3},
{"k":"red","x":590.3,"x2":590.3,"y":958.3,"y2":964.3},{"k":"red","x":636,"x2":636,"y":958.3,"y2":964.3},{"k":"red","x":650,"x2":650,"y":958.3,"y2":964.3},{"k":"red","x":651.2,"x2":651.2,"y":958.3,"y2":964.3},{"k":"red","x":722.7,"x2":722.7,"y":958.3,"y2":964.3},{"k":"red","x":730.3,"x2":730.3,"y":958.3,"y2":964.3},{"k":"red","x":762.3,"x2":762.3,"y":958.3,"y2":964.3},
{"k":"gene","x":104,"x2":223,"y":965.7,"y2":965.7},{"k":"gene","x":104,"x2":223,"y":970,"y2":970},{"k":"gene","x":104,"x2":223,"y":975,"y2":975},
{"k":"gene","x":350.7,"x2":470.7,"y":970.7,"y2":970.7},{"k":"gene","x":350.7,"x2":470.7,"y":974,"y2":974},{"k":"gene","x":350.7,"x2":470.7,"y":977.3,"y2":977.3},
{"k":"gene","x":583.3,"x2":610,"y":973,"y2":973},{"k":"gene","x":655,"x2":673.3,"y":973,"y2":973},
{"k":"sc","x":187,"x2":260,"y":987.7,"y2":987.7},{"k":"sc","x":187,"x2":187,"y":985.7,"y2":989.7},{"k":"sc","x":260,"x2":260,"y":985.7,"y2":989.7},
{"k":"sc","x":454.3,"x2":511.7,"y":988,"y2":988},{"k":"sc","x":454.3,"x2":454.3,"y":986,"y2":990},{"k":"sc","x":511.7,"x2":511.7,"y":986,"y2":990},
{"k":"sc","x":732.7,"x2":768.3,"y":988,"y2":988},{"k":"sc","x":732.7,"x2":732.7,"y":986,"y2":990},{"k":"sc","x":768.3,"x2":768.3,"y":986,"y2":990},
{"k":"brk","x":171,"x2":204,"y":727.7,"y2":727.7},{"k":"brk","x":213,"x2":236,"y":727.7,"y2":727.7},{"k":"brk","x":244,"x2":277,"y":727.7,"y2":727.7},{"k":"brk","x":287,"x2":310,"y":727.7,"y2":727.7}
],
"box":[
{"k":"bar","x":78,"x2":110,"y":928.3,"y2":931.7},{"k":"bar","x":475.7,"x2":483.3,"y":926.3,"y2":931.3},{"k":"bar","x":722.3,"x2":736.7,"y":926.3,"y2":931},
{"k":"ex","x":103.5,"x2":109.5,"y":964,"y2":976},{"k":"ex","x":112,"x2":119,"y":964,"y2":976},{"k":"ex","x":122.7,"x2":129,"y":964,"y2":976},{"k":"ex","x":143.3,"x2":167.7,"y":964,"y2":976},{"k":"ex","x":171.7,"x2":191.7,"y":964,"y2":976},{"k":"ex","x":195,"x2":211,"y":964,"y2":976},{"k":"ex","x":220,"x2":224,"y":964,"y2":976},
{"k":"ex","x":350.7,"x2":353.3,"y":969,"y2":978},{"k":"ex","x":371.7,"x2":381.7,"y":969,"y2":978},{"k":"ex","x":383.3,"x2":386,"y":969,"y2":978},{"k":"ex","x":388.3,"x2":395,"y":969,"y2":978},{"k":"ex","x":396.7,"x2":399.3,"y":969,"y2":978},{"k":"ex","x":419.3,"x2":428.3,"y":969,"y2":978},{"k":"ex","x":430,"x2":434,"y":969,"y2":978},{"k":"ex","x":442.3,"x2":445.7,"y":969,"y2":978},{"k":"ex","x":446.7,"x2":449,"y":969,"y2":978},{"k":"ex","x":451,"x2":457.7,"y":969,"y2":978},{"k":"ex","x":460,"x2":466.7,"y":969,"y2":978},{"k":"ex","x":468.3,"x2":470.7,"y":969,"y2":978},{"k":"ex","x":478.3,"x2":482.7,"y":980,"y2":982.3},
{"k":"ex","x":583.3,"x2":595.7,"y":971,"y2":975},{"k":"ex","x":596.7,"x2":600.7,"y":971,"y2":975},{"k":"ex","x":602.7,"x2":610,"y":971,"y2":975},{"k":"ex","x":660,"x2":673.3,"y":971,"y2":975}
],
"arrow":[{"x":224.5,"y":970,"d":"R"},{"x":657,"y":973,"d":"L"},{"x":412.7,"y":915,"d":"L"}],
"A1":[{"p":24,"c":0},{"p":24,"c":7},{"p":27,"c":8},{"p":27,"c":0},{"p":30,"c":0},{"p":31,"c":8},{"p":33,"c":11},{"p":36,"c":9},{"p":36,"c":0},{"p":39,"c":0},{"p":39,"c":10},{"p":46,"c":11},{"p":46,"c":0},{"p":49,"c":0},{"p":49,"c":9},{"p":52,"c":10},{"p":56,"c":14},{"p":56,"c":0},{"p":70,"c":0},{"p":70,"c":18},{"p":78,"c":16},{"p":88,"c":12},{"p":94,"c":20},{"p":95,"c":0},{"p":99,"c":0},{"p":99,"c":19},{"p":106,"c":15},{"p":117,"c":8},{"p":117,"c":0},{"p":122,"c":0},{"p":122,"c":6},{"p":130,"c":10},{"p":138,"c":13},{"p":138,"c":0},{"p":148,"c":0},{"p":150,"c":20},{"p":153,"c":42},{"p":155,"c":30},{"p":157,"c":6},{"p":158,"c":0}],
"A2":[{"p":24,"c":0},{"p":24,"c":6},{"p":27,"c":7},{"p":27,"c":0},{"p":30,"c":0},{"p":31,"c":7},{"p":33,"c":9},{"p":36,"c":8},{"p":36,"c":0},{"p":39,"c":0},{"p":40,"c":9},{"p":43,"c":13},{"p":46,"c":15},{"p":46,"c":0},{"p":49,"c":0},{"p":49,"c":12},{"p":56,"c":15},{"p":56,"c":0},{"p":70,"c":0},{"p":70,"c":15},{"p":78,"c":14},{"p":85,"c":13},{"p":94,"c":18},{"p":95,"c":0},{"p":99,"c":0},{"p":99,"c":17},{"p":106,"c":14},{"p":117,"c":8},{"p":117,"c":0},{"p":122,"c":0},{"p":124,"c":12},{"p":130,"c":16},{"p":138,"c":15},{"p":138,"c":0},{"p":148,"c":0},{"p":150,"c":15},{"p":153,"c":24},{"p":155,"c":18},{"p":157,"c":8},{"p":158,"c":0}],
"A3":[{"p":78,"c":0},{"p":80,"c":1},{"p":82,"c":0},{"p":90,"c":0},{"p":92,"c":1},{"p":94,"c":0},{"p":100,"c":0},{"p":101,"c":1},{"p":103,"c":0},{"p":150,"c":0},{"p":152,"c":1},{"p":154,"c":0}],
"A4":[{"p":100,"c":0},{"p":101,"c":1},{"p":103,"c":0},{"p":150,"c":0},{"p":152,"c":2},{"p":154,"c":0}],
"A5":[{"p":9,"c":0},{"p":14,"c":1},{"p":20,"c":7},{"p":25,"c":12},{"p":30,"c":8},{"p":35,"c":3},{"p":42,"c":1},{"p":50,"c":0},{"p":55,"c":1},{"p":62,"c":1.8},{"p":70,"c":0.5},{"p":75,"c":0}],
"B1":[{"p":23,"c":0},{"p":23,"c":6},{"p":25,"c":8},{"p":27,"c":7},{"p":28,"c":11},{"p":30,"c":6},{"p":31,"c":0},{"p":49,"c":0},{"p":50,"c":4},{"p":52,"c":8},{"p":54,"c":7},{"p":59,"c":4},{"p":60,"c":0},{"p":61,"c":0},{"p":61,"c":4},{"p":64,"c":3},{"p":65,"c":0},{"p":66,"c":0},{"p":66,"c":5},{"p":69,"c":5},{"p":70,"c":0},{"p":71,"c":0},{"p":72,"c":5},{"p":76,"c":4},{"p":77,"c":0},{"p":97,"c":0},{"p":97,"c":5},{"p":104,"c":5},{"p":104,"c":0},{"p":105,"c":0},{"p":106,"c":5},{"p":108,"c":4},{"p":109,"c":6},{"p":112,"c":7},{"p":112,"c":0},{"p":120,"c":0},{"p":120,"c":6},{"p":122,"c":3},{"p":123,"c":3},{"p":124,"c":0},{"p":127,"c":0},{"p":127,"c":6},{"p":133,"c":5},{"p":134,"c":0},{"p":135,"c":0},{"p":135,"c":5},{"p":140,"c":4},{"p":141,"c":0},{"p":142,"c":0},{"p":142,"c":5},{"p":146,"c":5},{"p":149,"c":4},{"p":149,"c":0},{"p":176,"c":0},{"p":176,"c":1},{"p":182,"c":1},{"p":183,"c":0}],
"B2":[{"p":23,"c":0},{"p":23,"c":7},{"p":26,"c":4},{"p":28,"c":4},{"p":30,"c":4},{"p":31,"c":0},{"p":49,"c":0},{"p":50,"c":7},{"p":53,"c":7},{"p":55,"c":5},{"p":59,"c":4},{"p":60,"c":0},{"p":61,"c":0},{"p":61,"c":3},{"p":64,"c":3},{"p":65,"c":0},{"p":66,"c":0},{"p":66,"c":5},{"p":69,"c":4},{"p":70,"c":0},{"p":71,"c":0},{"p":72,"c":5},{"p":76,"c":4},{"p":77,"c":0},{"p":97,"c":0},{"p":97,"c":5},{"p":104,"c":5},{"p":104,"c":0},{"p":105,"c":0},{"p":106,"c":5},{"p":109,"c":5},{"p":112,"c":6},{"p":112,"c":0},{"p":120,"c":0},{"p":120,"c":6},{"p":122,"c":3},{"p":123,"c":6},{"p":124,"c":0},{"p":127,"c":0},{"p":127,"c":7},{"p":133,"c":6},{"p":134,"c":0},{"p":135,"c":0},{"p":135,"c":6},{"p":140,"c":5},{"p":141,"c":0},{"p":142,"c":0},{"p":142,"c":5},{"p":146,"c":5},{"p":149,"c":4},{"p":149,"c":0},{"p":177,"c":0},{"p":177,"c":1},{"p":182,"c":1},{"p":183,"c":0}],
"B3":[{"p":23,"c":0},{"p":23,"c":8},{"p":26,"c":9},{"p":28,"c":11},{"p":30,"c":9},{"p":31,"c":0},{"p":49,"c":0},{"p":49,"c":20},{"p":52,"c":17},{"p":54,"c":20},{"p":56,"c":14},{"p":59,"c":13},{"p":60,"c":0},{"p":61,"c":0},{"p":61,"c":11},{"p":64,"c":12},{"p":65,"c":0},{"p":66,"c":0},{"p":66,"c":14},{"p":69,"c":16},{"p":70,"c":0},{"p":71,"c":0},{"p":72,"c":15},{"p":74,"c":18},{"p":76,"c":13},{"p":77,"c":0},{"p":97,"c":0},{"p":97,"c":19},{"p":100,"c":17},{"p":104,"c":19},{"p":104,"c":0},{"p":105,"c":0},{"p":106,"c":18},{"p":108,"c":12},{"p":109,"c":17},{"p":112,"c":20},{"p":112,"c":0},{"p":120,"c":0},{"p":120,"c":20},{"p":122,"c":9},{"p":123,"c":20},{"p":124,"c":0},{"p":127,"c":0},{"p":127,"c":19},{"p":130,"c":17},{"p":133,"c":15},{"p":134,"c":0},{"p":135,"c":0},{"p":135,"c":16},{"p":138,"c":19},{"p":141,"c":0},{"p":142,"c":0},{"p":142,"c":14},{"p":146,"c":16},{"p":149,"c":13},{"p":149,"c":0}],
"B4":[{"p":25,"c":0},{"p":27,"c":1},{"p":29,"c":0},{"p":49,"c":0},{"p":52,"c":3},{"p":56,"c":2},{"p":60,"c":0},{"p":62,"c":0},{"p":66,"c":1},{"p":76,"c":1},{"p":77,"c":0},{"p":97,"c":0},{"p":100,"c":1},{"p":112,"c":1},{"p":112,"c":0},{"p":120,"c":0},{"p":125,"c":1},{"p":149,"c":1},{"p":149,"c":0}],
"B5":[{"p":54,"c":0},{"p":58,"c":0.3},{"p":64,"c":0},{"p":100,"c":0},{"p":106,"c":0.5},{"p":116,"c":0},{"p":129,"c":0},{"p":131,"c":0.6},{"p":134,"c":0},{"p":150,"c":0},{"p":154,"c":1.2},{"p":157,"c":2},{"p":161,"c":1},{"p":165,"c":0},{"p":172,"c":0},{"p":175,"c":1},{"p":178,"c":0}],
"C1":[{"p":27,"c":0},{"p":30,"c":0.7},{"p":34,"c":0},{"p":70,"c":0},{"p":72,"c":0.8},{"p":74,"c":0},{"p":89,"c":0},{"p":91,"c":0.5},{"p":94,"c":0}],
"C2":[{"p":70,"c":0},{"p":72,"c":0.6},{"p":76,"c":0},{"p":89,"c":0},{"p":92,"c":0.4},{"p":94,"c":0}],
"C3":[{"p":8,"c":0},{"p":20,"c":0.3},{"p":30,"c":0.3},{"p":32,"c":0},{"p":70,"c":0},{"p":71,"c":2},{"p":74,"c":2.7},{"p":76,"c":2},{"p":78,"c":1.5},{"p":79,"c":0},{"p":82,"c":0},{"p":84,"c":1.5},{"p":88,"c":2.2},{"p":92,"c":2.6},{"p":94,"c":3.4},{"p":97,"c":2.5},{"p":100,"c":1.5},{"p":102,"c":0.8},{"p":104,"c":1.2},{"p":108,"c":0.8},{"p":110,"c":0},{"p":124,"c":0},{"p":126,"c":0.3},{"p":128,"c":0}],
"C4":[{"p":70,"c":0},{"p":71,"c":2},{"p":74,"c":3.7},{"p":77,"c":3.5},{"p":78,"c":2},{"p":79,"c":0},{"p":81,"c":0},{"p":83,"c":2.4},{"p":86,"c":2.8},{"p":88,"c":2.2},{"p":90,"c":2.8},{"p":94,"c":3.1},{"p":98,"c":2.6},{"p":100,"c":1.6},{"p":103,"c":1.2},{"p":105,"c":0.9},{"p":107,"c":1.8},{"p":108,"c":0},{"p":125,"c":0},{"p":127,"c":0.3},{"p":130,"c":0}],
"C5":[{"p":132,"c":0},{"p":139,"c":0.6},{"p":145,"c":1.6},{"p":152,"c":0.5},{"p":156,"c":0}]
},
"resolve":{"scale":{"x":"independent","y":"independent","color":"independent","shape":"independent","fill":"independent","stroke":"independent","size":"independent"},"axis":{"x":"independent","y":"independent"},"legend":{"color":"independent","shape":"independent","fill":"independent","stroke":"independent","size":"independent"}},
"layer":[
{"data":{"name":"genes"},
 "encoding":{"y":{"field":"r","type":"quantitative","axis":null,"scale":{"domain":[0,82],"range":[6.7,715.18]}}},
 "resolve":{"scale":{"x":"independent","color":"independent"},"legend":{"color":"independent"}},
 "layer":[
 {"transform":[{"fold":["a","b","c","d","e","f","h","i","j","k","l","m","n","o"],"as":["col","val"]}],
  "mark":{"type":"rect","height":8.8},
  "encoding":{"x":{"field":"col","type":"nominal","axis":null,"scale":{"type":"band","domain":["a","b","c","d","e","f","h","i","j","k","l","m","n","o"],"range":[169.3,310],"paddingInner":0,"paddingOuter":0}},
   "color":{"field":"val","type":"quantitative","scale":{"interpolate":"rgb","domain":[-4.6,-3.5,-2,0,2,3.6,4.6],"range":["#6dcde0","#6dcde0","#10b8bc","#060606","#a6a438","#f4e815","#f4e815"]},
    "legend":{"orient":"none","legendX":437,"legendY":559,"direction":"horizontal","title":["Gene","expression"],"titleFontSize":12,"titleFontWeight":"bold","titleColor":"#222","titlePadding":6,"gradientLength":72,"gradientThickness":13,"values":[-4,-2,0,2,4],"labelFontSize":11.5,"labelColor":"#222","labelOverlap":false,"tickCount":5,"padding":0,"labelOffset":3}}}},
 {"mark":{"type":"rect","height":8.8},
  "encoding":{"x":{"datum":"w","type":"nominal","axis":null,"scale":{"type":"band","domain":["w","m"],"range":[323.7,365.7],"paddingInner":0.42,"paddingOuter":0}},
   "color":{"field":"W","type":"quantitative","scale":{"interpolate":"rgb","domain":[-15,0,50,110,213],"range":["#060606","#060606","#1e5c2e","#1bb14c","#6abd45"]},
    "legend":{"orient":"none","legendX":437,"legendY":627,"direction":"horizontal","title":"ELT-2 ChIP (Weisenfahrt et. al)","titleFontSize":12.2,"titleFontWeight":"bold","titleColor":"#222","titleLimit":300,"titlePadding":3,"gradientLength":72,"gradientThickness":13,"values":[0,50,100,150,200],"labelFontSize":11,"labelColor":"#222","labelOverlap":false,"padding":0,"encoding":{"labels":{"angle":{"value":90},"align":{"value":"left"},"baseline":{"value":"middle"}}}}}}},
 {"mark":{"type":"rect","height":8.8},
  "encoding":{"x":{"datum":"m","type":"nominal","axis":null,"scale":{"type":"band","domain":["w","m"],"range":[323.7,365.7],"paddingInner":0.42,"paddingOuter":0}},
   "color":{"field":"M","type":"quantitative","scale":{"interpolate":"rgb","domain":[-15,0,50,110,213],"range":["#060606","#060606","#1e5c2e","#1bb14c","#6abd45"]},
    "legend":{"orient":"none","legendX":438,"legendY":688,"direction":"horizontal","title":"ELT-2 ChIP peak (Mann et. al)","titleFontSize":12,"titleFontWeight":"bold","titleColor":"#222","titleLimit":300,"titlePadding":3,"gradientLength":72,"gradientThickness":13,"values":[0,50,100,150,200],"labelFontSize":11,"labelColor":"#222","labelOverlap":false,"padding":0,"encoding":{"labels":{"angle":{"value":90},"align":{"value":"left"},"baseline":{"value":"middle"}}}}}}},
 {"transform":[{"filter":"!(datum.g=='cpr-6'||datum.g=='C18B2.5'||datum.g=='F19B2.5')"}],
  "mark":{"type":"text","align":"left","baseline":"middle","fontStyle":"italic","fontSize":10.2,"color":"#333"},
  "encoding":{"x":{"datum":368,"type":"quantitative","axis":null,"scale":{"domain":[0,800],"range":[0,800]}},"text":{"field":"g"}}},
 {"transform":[{"filter":"datum.g=='cpr-6'||datum.g=='C18B2.5'||datum.g=='F19B2.5'"}],
  "mark":{"type":"text","align":"left","baseline":"middle","fontStyle":"italic","fontWeight":"bold","fontSize":10.2,"color":"#ee1c25"},
  "encoding":{"x":{"datum":368,"type":"quantitative","axis":null,"scale":{"domain":[0,800],"range":[0,800]}},"text":{"field":"g"}}},
 {"transform":[{"filter":"datum.lf>0"}],
  "mark":{"type":"rule","color":"#333","strokeWidth":0.9},
  "encoding":{"x":{"field":"lf","type":"quantitative","axis":null,"scale":{"domain":[0,800],"range":[0,800]}},"x2":{"datum":165}}},
 {"data":{"name":"dend"},
  "mark":{"type":"rule","color":"#333","strokeWidth":0.9},
  "encoding":{"x":{"field":"h","type":"quantitative","axis":null,"scale":{"domain":[0,800],"range":[0,800]}},"x2":{"field":"h2"},"y2":{"field":"r2"}}}
 ]},
{"encoding":{
  "x":{"field":"rank","type":"quantitative","scale":{"domain":[0,81],"range":[501.4,788.3]},"axis":{"orient":"bottom","offset":-707.7,"values":[0,1,2,3,4,5,6,7,8,9,10,11,12,13,14,15,16,17,18,19,20,21,22,23,24,25,26,27,28,29,30,31,32,33,34,35,36,37,38,39,40,41,42,43,44,45,46,47,48,49,50,51,52,53,54,55,56,57,58,59,60,61,62,63,64,65,66,67,68,69,70,71,72,73,74,75,76,77,78,79,80,81],"labels":false,"title":null,"grid":false,"tickSize":8,"tickColor":"#333","domainColor":"#333","tickWidth":0.7}},
  "y":{"field":"diff","type":"quantitative","scale":{"domain":[-8,8],"range":[284,36]},"axis":{"orient":"left","offset":-501.4,"values":[-8,-6,-4,-2,0,2,4,6,8],"grid":false,"labelAngle":-90,"labelAlign":"center","labelBaseline":"bottom","labelExpr":"datum.value==0?'NaN':format(datum.value,'d')","tickSize":6.5,"tickColor":"#333","domainColor":"#333","labelFontSize":13,"labelPadding":3,"title":"log₂ RPKM difference (mutant − wt)","titleFontSize":15.5,"titlePadding":8}}},
 "layer":[
 {"data":{"name":"brace"},"mark":{"type":"line","color":"#999","strokeWidth":1.4,"interpolate":"monotone"},"encoding":{"detail":{"field":"b"}}},
 {"data":{"name":"lead"},"mark":{"type":"rule","color":"#333","strokeWidth":0.8,"strokeDash":[1.5,1.5]},"encoding":{"x2":{"field":"rank2"},"y2":{"field":"diff2"}}},
 {"data":{"values":[{"rank":0,"rank2":84.3,"diff":0}]},"mark":{"type":"rule","color":"#111","strokeWidth":1.1,"strokeDash":[5,3]},"encoding":{"x2":{"field":"rank2"}}},
 {"data":{"name":"rnk"},"mark":{"type":"point","opacity":1,"strokeWidth":1},
  "encoding":{
   "shape":{"field":"s","type":"nominal","scale":{"domain":["E","A","B","C","T"],"range":["diamond","M-1,0A1,1,0,1,0,1,0A1,1,0,1,0,-1,0ZM-1,0L1,0M0,-1L0,1","circle","circle","triangle-up"]},
    "legend":{"orient":"none","legendX":541,"legendY":356,"title":null,"strokeColor":"#222","padding":7,"rowPadding":3.6,"labelFontSize":12,"labelFontStyle":"italic","labelColor":"#222","labelLimit":300,"labelExpr":"{'E':'elt-2(-) v. wt','A':'elt-7(-);elt-2(-) v. wt − CLASS A','B':'elt-7(-);elt-2(-) v. wt − CLASS B','C':'elt-7(-);elt-2(-) v. wt − CLASS C','T':'elt-7(-);elt-2(-) v. wt − ttr-46'}[datum.value]"}},
   "fill":{"field":"s","type":"nominal","scale":{"domain":["E","A","B","C","T"],"range":["#ee1c25","transparent","transparent","#2e4b9f","#2e4b9f"]}},
   "stroke":{"field":"s","type":"nominal","scale":{"domain":["E","A","B","C","T"],"range":["#ee1c25","#3d5aa9","#3d5aa9","#2e4b9f","#2e4b9f"]}},
   "size":{"field":"s","type":"nominal","scale":{"domain":["E","A","B","C","T"],"range":[16,50,32,26,46]}}}},
 {"data":{"name":"ctext"},"transform":[{"filter":"datum.k=='lab'"}],"mark":{"type":"text","align":"left","baseline":"middle","fontStyle":"italic","fontSize":13,"color":"#ee1c25"},"encoding":{"text":{"field":"s"}}},
 {"data":{"name":"ctext"},"transform":[{"filter":"datum.k=='prime'"}],"mark":{"type":"text","baseline":"middle","fontStyle":"italic","fontWeight":"bold","fontSize":13,"color":"#222"},"encoding":{"text":{"field":"s"}}}
 ]},
{"data":{"name":"seg"},
 "encoding":{"x":{"field":"x","type":"quantitative","axis":null,"scale":{"domain":[0,800],"range":[0,800]}},"x2":{"field":"x2"},"y":{"field":"y","type":"quantitative","axis":null,"scale":{"domain":[0,1000],"range":[0,1000]}},"y2":{"field":"y2"}},
 "layer":[
 {"transform":[{"filter":"datum.k=='base'"}],"mark":{"type":"rule","color":"#aab6dd","strokeWidth":1.1}},
 {"transform":[{"filter":"datum.k=='tick'"}],"mark":{"type":"rule","color":"#6a80bd","strokeWidth":0.9}},
 {"transform":[{"filter":"datum.k=='dk'"}],"mark":{"type":"rule","color":"#333","strokeWidth":0.9}},
 {"transform":[{"filter":"datum.k=='gr'"}],"mark":{"type":"rule","color":"#aaa","strokeWidth":0.9}},
 {"transform":[{"filter":"datum.k=='red'"}],"mark":{"type":"rule","color":"#f37a7a","strokeWidth":0.9}},
 {"transform":[{"filter":"datum.k=='gene'"}],"mark":{"type":"rule","color":"#2a2f7d","strokeWidth":0.9}},
 {"transform":[{"filter":"datum.k=='sc'"}],"mark":{"type":"rule","color":"#444","strokeWidth":1}},
 {"transform":[{"filter":"datum.k=='brk'"}],"mark":{"type":"rule","color":"#222","strokeWidth":1.3}}
 ]},
{"data":{"name":"box"},
 "encoding":{"x":{"field":"x","type":"quantitative","axis":null,"scale":{"domain":[0,800],"range":[0,800]}},"x2":{"field":"x2"},"y":{"field":"y","type":"quantitative","axis":null,"scale":{"domain":[0,1000],"range":[0,1000]}},"y2":{"field":"y2"}},
 "layer":[
 {"transform":[{"filter":"datum.k=='bar'"}],"mark":{"type":"rect","color":"#000"}},
 {"transform":[{"filter":"datum.k=='ex'"}],"mark":{"type":"rect","color":"#2a2f7d"}}
 ]},
{"data":{"name":"arrow"},"mark":{"type":"point","filled":true,"opacity":1,"color":"#2a2f7d","size":28},
 "encoding":{"x":{"field":"x","type":"quantitative","axis":null,"scale":{"domain":[0,800],"range":[0,800]}},"y":{"field":"y","type":"quantitative","axis":null,"scale":{"domain":[0,1000],"range":[0,1000]}},"shape":{"field":"d","type":"nominal","legend":null,"scale":{"domain":["L","R"],"range":["triangle-left","triangle-right"]}}}},
{"data":{"name":"A1"},"mark":{"type":"area","color":"#3a55a8"},"encoding":{"x":{"field":"p","type":"quantitative","axis":null,"scale":{"domain":[0,181],"range":[73,254]}},"y":{"field":"c","type":"quantitative","axis":null,"scale":{"domain":[0,50],"range":[834,808]}}}},
{"data":{"name":"A2"},"mark":{"type":"area","color":"#3a55a8"},"encoding":{"x":{"field":"p","type":"quantitative","axis":null,"scale":{"domain":[0,181],"range":[73,254]}},"y":{"field":"c","type":"quantitative","axis":null,"scale":{"domain":[0,50],"range":[863.7,837.7]}}}},
{"data":{"name":"A3"},"mark":{"type":"area","color":"#3a55a8"},"encoding":{"x":{"field":"p","type":"quantitative","axis":null,"scale":{"domain":[0,181],"range":[73,254]}},"y":{"field":"c","type":"quantitative","axis":null,"scale":{"domain":[0,50],"range":[893.7,867.7]}}}},
{"data":{"name":"A4"},"mark":{"type":"area","color":"#3a55a8"},"encoding":{"x":{"field":"p","type":"quantitative","axis":null,"scale":{"domain":[0,181],"range":[73,254]}},"y":{"field":"c","type":"quantitative","axis":null,"scale":{"domain":[0,50],"range":[923.7,897.7]}}}},
{"data":{"name":"A5"},"mark":{"type":"area","color":"#000"},"encoding":{"x":{"field":"p","type":"quantitative","axis":null,"scale":{"domain":[0,181],"range":[73,254]}},"y":{"field":"c","type":"quantitative","axis":null,"scale":{"domain":[0,20],"range":[945,926]}}}},
{"data":{"name":"B1"},"mark":{"type":"area","color":"#3a55a8"},"encoding":{"x":{"field":"p","type":"quantitative","axis":null,"scale":{"domain":[0,186],"range":[322.7,508.7]}},"y":{"field":"c","type":"quantitative","axis":null,"scale":{"domain":[0,20],"range":[834,809]}}}},
{"data":{"name":"B2"},"mark":{"type":"area","color":"#3a55a8"},"encoding":{"x":{"field":"p","type":"quantitative","axis":null,"scale":{"domain":[0,186],"range":[322.7,508.7]}},"y":{"field":"c","type":"quantitative","axis":null,"scale":{"domain":[0,20],"range":[863.3,838.3]}}}},
{"data":{"name":"B3"},"mark":{"type":"area","color":"#3a55a8"},"encoding":{"x":{"field":"p","type":"quantitative","axis":null,"scale":{"domain":[0,186],"range":[322.7,508.7]}},"y":{"field":"c","type":"quantitative","axis":null,"scale":{"domain":[0,20],"range":[892.7,867.7]}}}},
{"data":{"name":"B4"},"mark":{"type":"area","color":"#3a55a8"},"encoding":{"x":{"field":"p","type":"quantitative","axis":null,"scale":{"domain":[0,186],"range":[322.7,508.7]}},"y":{"field":"c","type":"quantitative","axis":null,"scale":{"domain":[0,20],"range":[922,897]}}}},
{"data":{"name":"B5"},"mark":{"type":"area","color":"#000"},"encoding":{"x":{"field":"p","type":"quantitative","axis":null,"scale":{"domain":[0,186],"range":[322.7,508.7]}},"y":{"field":"c","type":"quantitative","axis":null,"scale":{"domain":[0,5],"range":[943.3,928.3]}}}},
{"data":{"name":"C1"},"mark":{"type":"area","color":"#3a55a8"},"encoding":{"x":{"field":"p","type":"quantitative","axis":null,"scale":{"domain":[0,180],"range":[584.3,764.3]}},"y":{"field":"c","type":"quantitative","axis":null,"scale":{"domain":[0,10],"range":[833,808]}}}},
{"data":{"name":"C2"},"mark":{"type":"area","color":"#3a55a8"},"encoding":{"x":{"field":"p","type":"quantitative","axis":null,"scale":{"domain":[0,180],"range":[584.3,764.3]}},"y":{"field":"c","type":"quantitative","axis":null,"scale":{"domain":[0,10],"range":[862.3,837.3]}}}},
{"data":{"name":"C3"},"mark":{"type":"area","color":"#3a55a8"},"encoding":{"x":{"field":"p","type":"quantitative","axis":null,"scale":{"domain":[0,180],"range":[584.3,764.3]}},"y":{"field":"c","type":"quantitative","axis":null,"scale":{"domain":[0,10],"range":[892,867]}}}},
{"data":{"name":"C4"},"mark":{"type":"area","color":"#3a55a8"},"encoding":{"x":{"field":"p","type":"quantitative","axis":null,"scale":{"domain":[0,180],"range":[584.3,764.3]}},"y":{"field":"c","type":"quantitative","axis":null,"scale":{"domain":[0,10],"range":[921.3,896.3]}}}},
{"data":{"name":"C5"},"mark":{"type":"area","color":"#000"},"encoding":{"x":{"field":"p","type":"quantitative","axis":null,"scale":{"domain":[0,180],"range":[584.3,764.3]}},"y":{"field":"c","type":"quantitative","axis":null,"scale":{"domain":[0,10],"range":[943.3,928.3]}}}},
{"data":{"name":"t"},
 "encoding":{"x":{"field":"x","type":"quantitative","axis":null,"scale":{"domain":[0,800],"range":[0,800]}},"y":{"field":"y","type":"quantitative","axis":null,"scale":{"domain":[0,1000],"range":[0,1000]}},"text":{"field":"s"}},
 "layer":[
 {"transform":[{"filter":"datum.k=='pan'"}],"mark":{"type":"text","fontWeight":"bold","fontSize":18,"color":"#000","baseline":"middle"}},
 {"transform":[{"filter":"datum.k=='ttr'"}],"mark":{"type":"text","fontWeight":"bold","fontStyle":"italic","fontSize":14.5,"color":"#222","align":"left","baseline":"middle"}},
 {"transform":[{"filter":"datum.k=='vert'"}],"mark":{"type":"text","fontSize":17,"color":"#222","angle":270,"baseline":"middle"}},
 {"transform":[{"filter":"datum.k=='cls'"}],"mark":{"type":"text","fontWeight":"bold","fontSize":15.3,"color":"#111","baseline":"middle"}},
 {"transform":[{"filter":"datum.k=='sub'"}],"mark":{"type":"text","fontWeight":"bold","fontSize":12.5,"color":"#444","baseline":"middle"}},
 {"transform":[{"filter":"datum.k=='rot'"}],"mark":{"type":"text","fontWeight":"bold","fontStyle":"italic","fontSize":12,"color":"#222","angle":315,"baseline":"middle"}},
 {"transform":[{"filter":"datum.k=='rotp'"}],"mark":{"type":"text","fontWeight":"bold","fontSize":11.5,"color":"#333","angle":315,"baseline":"middle"}},
 {"transform":[{"filter":"datum.k=='xt'"}],"mark":{"type":"text","fontSize":15.7,"color":"#222","baseline":"middle"}},
 {"transform":[{"filter":"datum.k=='xti'"}],"mark":{"type":"text","fontSize":15.7,"fontStyle":"italic","color":"#222","baseline":"middle"}},
 {"transform":[{"filter":"datum.k=='tb'"}],"mark":{"type":"text","fontSize":14.7,"fontWeight":"bold","fontStyle":"italic","color":"#111","align":"left","baseline":"middle"}},
 {"transform":[{"filter":"datum.k=='tr'"}],"mark":{"type":"text","fontSize":14.7,"fontWeight":"bold","fontStyle":"italic","color":"#ee1c25","align":"left","baseline":"middle"}},
 {"transform":[{"filter":"datum.k=='num'"}],"mark":{"type":"text","fontSize":12,"color":"#5570b5","align":"right","baseline":"middle"}},
 {"transform":[{"filter":"datum.k=='trk'"}],"mark":{"type":"text","fontSize":11.6,"fontWeight":"bold","fontStyle":"italic","color":"#3d5aa9","align":"left","baseline":"middle"}},
 {"transform":[{"filter":"datum.k=='cn'"}],"mark":{"type":"text","fontSize":12,"color":"#222","align":"right","baseline":"middle"}},
 {"transform":[{"filter":"datum.k=='cg'"}],"mark":{"type":"text","fontSize":11.5,"color":"#999","align":"right","baseline":"middle"}},
 {"transform":[{"filter":"datum.k=='chip'"}],"mark":{"type":"text","fontSize":12.4,"color":"#222","align":"left","baseline":"middle"}},
 {"transform":[{"filter":"datum.k=='mot'"}],"mark":{"type":"text","fontSize":11.5,"color":"#f15a5a","align":"left","baseline":"middle"}},
 {"transform":[{"filter":"datum.k=='gn'"}],"mark":{"type":"text","fontSize":11.8,"fontWeight":"bold","fontStyle":"italic","color":"#111","align":"left","baseline":"middle"}},
 {"transform":[{"filter":"datum.k=='kb'"}],"mark":{"type":"text","fontSize":12,"color":"#222","baseline":"middle"}}
 ]}
]}
